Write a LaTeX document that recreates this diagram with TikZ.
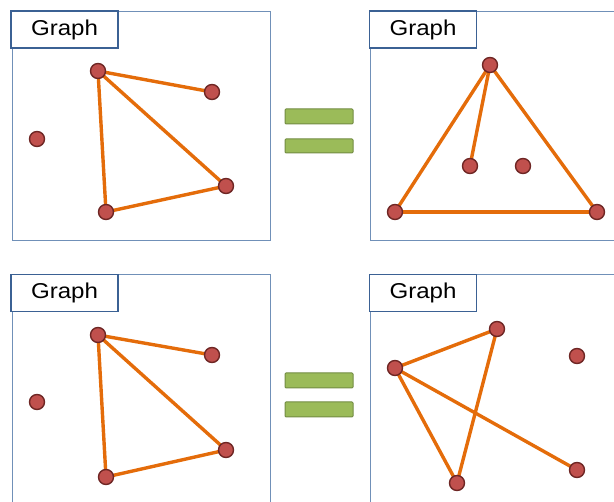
\documentclass[tikz,border=0pt]{standalone}
\usepackage{fontspec}
\setmainfont{Liberation Sans}
\usetikzlibrary{backgrounds}
\definecolor{framec}{HTML}{7090B8}
\definecolor{labc}{HTML}{3B6194}
\definecolor{nodefill}{HTML}{C0504D}
\definecolor{nodedraw}{HTML}{6E2624}
\definecolor{edgec}{HTML}{E46C0A}
\definecolor{barfill}{HTML}{9BBB59}
\definecolor{bardraw}{HTML}{738C43}
\begin{document}
\begin{tikzpicture}[x=1pt,y=-1pt,
  vtx/.style={circle,fill=nodefill,draw=nodedraw,line width=1.4pt,minimum size=15pt,inner sep=0pt},
  edge/.style={draw=edgec,line width=3.4pt},
  frame/.style={draw=framec,line width=1pt},
  lab/.style={draw=labc,line width=1.8pt,fill=white,minimum width=107pt,minimum height=37pt,inner sep=0pt,font=\fontsize{21.5}{24}\selectfont},
  bar/.style={draw=bardraw,fill=barfill,line width=1pt,rounded corners=1pt}]
\useasboundingbox (0,0) rectangle (614,502);
% frames
\draw[frame] (12,12) rectangle (270,241);
\draw[frame] (614,12) -- (370,12) -- (370,241) -- (614,241);
\draw[frame] (12,510) -- (12,275) -- (270,275) -- (270,510);
\draw[frame] (370,510) -- (370,275) -- (620,275);
% labels
\node[lab] (l1) at (64.5,29.5) {\scalebox{1.12}[1]{Graph}};
\node[lab] (l2) at (423,29.5) {\scalebox{1.12}[1]{Graph}};
\node[lab] (l3) at (64.5,293) {\scalebox{1.12}[1]{Graph}};
\node[lab] (l4) at (423,293) {\scalebox{1.12}[1]{Graph}};
% equals
\draw[bar] (285,109) rectangle (353,124);
\draw[bar] (285,139) rectangle (353,153);
\draw[bar] (285,373) rectangle (353,388);
\draw[bar] (285,402) rectangle (353,417);
% graph 1
\node[vtx] (a1) at (98,71) {};
\node[vtx] (a2) at (212,92) {};
\node[vtx] (a3) at (37,139) {};
\node[vtx] (a4) at (226,186) {};
\node[vtx] (a5) at (106,212) {};
% graph 2
\node[vtx] (b1) at (490,65) {};
\node[vtx] (b2) at (470,166) {};
\node[vtx] (b3) at (523,166) {};
\node[vtx] (b4) at (395,212) {};
\node[vtx] (b5) at (597,212) {};
% graph 3
\node[vtx] (c1) at (98,335) {};
\node[vtx] (c2) at (212,355) {};
\node[vtx] (c3) at (37,402) {};
\node[vtx] (c4) at (226,450) {};
\node[vtx] (c5) at (106,477) {};
% graph 4
\node[vtx] (d1) at (497,329) {};
\node[vtx] (d2) at (395,368) {};
\node[vtx] (d3) at (577,356) {};
\node[vtx] (d4) at (577,470) {};
\node[vtx] (d5) at (457,483) {};
% edges
\begin{scope}[on background layer]
\draw[edge] (a1.center) -- (a2.center);
\draw[edge] (a1.center) -- (a4.center);
\draw[edge] (a1.center) -- (a5.center);
\draw[edge] (a5.center) -- (a4.center);
\draw[edge] (b1.center) -- (b4.center);
\draw[edge] (b1.center) -- (b5.center);
\draw[edge] (b1.center) -- (b2.center);
\draw[edge] (b4.center) -- (b5.center);
\draw[edge] (c1.center) -- (c2.center);
\draw[edge] (c1.center) -- (c4.center);
\draw[edge] (c1.center) -- (c5.center);
\draw[edge] (c5.center) -- (c4.center);
\draw[edge] (d2.center) -- (d1.center);
\draw[edge] (d2.center) -- (d5.center);
\draw[edge] (d1.center) -- (d5.center);
\draw[edge] (d2.center) -- (d4.center);
\end{scope}
\end{tikzpicture}
\end{document}
